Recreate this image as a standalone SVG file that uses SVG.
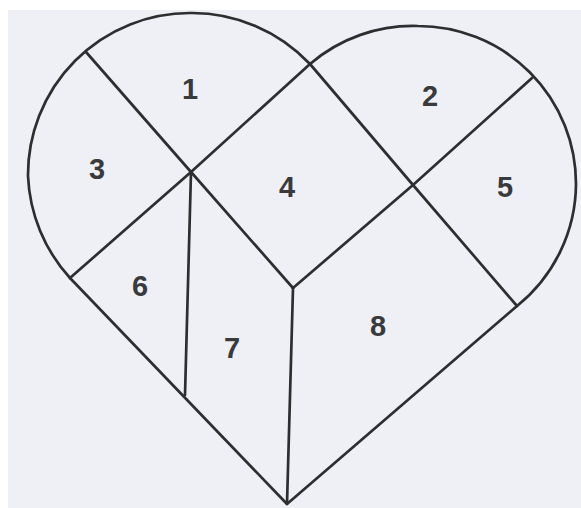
<svg xmlns="http://www.w3.org/2000/svg" width="581" height="508" viewBox="0 0 581 508">
  <style>
    .ln { fill: none; stroke: #2e2e30; stroke-width: 2.7; stroke-linecap: round; stroke-linejoin: round; }
    .lb { font-family: "Liberation Sans", Arial, sans-serif; font-weight: bold; font-size: 29px; fill: #3a3a3c; text-anchor: middle; }
  </style>
  <rect x="0" y="0" width="581" height="508" fill="#eef0f5"/>
  <rect x="0" y="0" width="581" height="10" fill="#ffffff"/>
  <rect x="0" y="0" width="8" height="508" fill="#ffffff"/>
  <g id="outline">
    <path class="ln" d="M 70,278 A 162 162 0 0 1 28,176 A 162 162 0 0 1 190,13 A 162 162 0 0 1 310,64 A 158 158 0 0 1 418,26 A 158 158 0 0 1 576,184 A 158 158 0 0 1 517,306 L 287,504 Z"/>
  </g>
  <g id="connectors">
    <path class="ln" d="M 86,52 L 191,172 L 293,288"/>
    <path class="ln" d="M 310,64 L 413,185 L 517,306"/>
    <path class="ln" d="M 310,64 L 191,172 L 70,278"/>
    <path class="ln" d="M 532,78 L 413,185 L 293,288"/>
    <path class="ln" d="M 191,172 L 185,395"/>
    <path class="ln" d="M 293,288 L 287,504"/>
  </g>
  <g id="piece1"><text class="lb" x="190" y="99">1</text></g>
  <g id="piece2"><text class="lb" x="430" y="106">2</text></g>
  <g id="piece3"><text class="lb" x="97" y="179">3</text></g>
  <g id="piece4"><text class="lb" x="287" y="197">4</text></g>
  <g id="piece5"><text class="lb" x="505" y="197">5</text></g>
  <g id="piece6"><text class="lb" x="140" y="296">6</text></g>
  <g id="piece7"><text class="lb" x="232" y="358">7</text></g>
  <g id="piece8"><text class="lb" x="378" y="336">8</text></g>
</svg>
